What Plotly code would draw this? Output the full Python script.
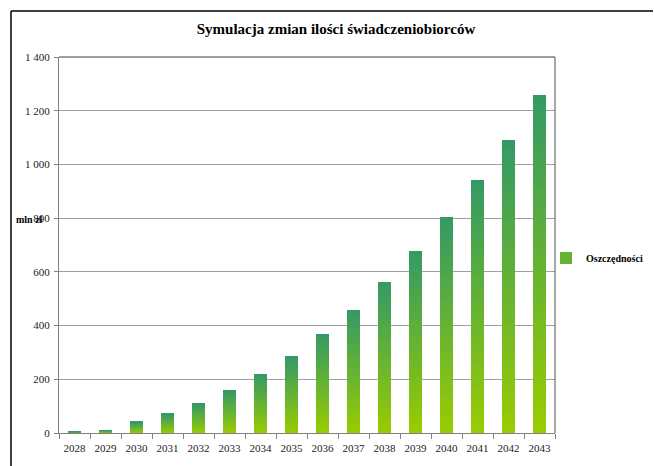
import plotly.graph_objects as go

years = ["2028", "2029", "2030", "2031", "2032", "2033", "2034", "2035",
         "2036", "2037", "2038", "2039", "2040", "2041", "2042", "2043"]
savings = [5, 11, 41, 71, 108, 160, 220, 287, 369, 458, 562, 678, 804, 942, 1091, 1258]
series_name = "Oszczędności"
y_ticks = [0, 200, 400, 600, 800, 1000, 1200, 1400]

# gradient emulation: stack thin slices of each bar, light at bottom, dark at top
N = 40
c_bottom = (153, 204, 0)
c_top = (51, 153, 102)

def mix(t):
    return "rgb(%d,%d,%d)" % tuple(round(a + (b - a) * t) for a, b in zip(c_bottom, c_top))

fig = go.Figure()
for i in range(N):
    t = (i + 0.5) / N
    fig.add_trace(go.Bar(
        x=years, y=[v / N for v in savings],
        marker=dict(color=mix(t), line=dict(width=0)),
        name="<b>" + series_name + "</b>", legendgroup="s",
        showlegend=(i == N // 2), hoverinfo="skip",
    ))

L, R, T, B = 59, 99, 57, 33
W, H = 654, 466
pw, ph = W - L - R, H - T - B

def px_x(px):
    return (px - L) / pw

def px_y(py):
    return (H - B - py) / ph

fig.update_layout(
    width=W, height=H,
    margin=dict(l=L, r=R, t=T, b=B, autoexpand=False),
    paper_bgcolor="white", plot_bgcolor="white",
    barmode="stack", bargap=0.55,
    separators=". ",
    font=dict(family="Liberation Serif, Times New Roman, serif", size=11, color="#222"),
    title=dict(text="<b>Symulacja zmian ilości świadczeniobiorców</b>",
               x=336 / W, xref="container", xanchor="center",
               y=1 - 29 / H, yref="container", yanchor="middle",
               font=dict(size=15, color="black", family="Liberation Serif, serif")),
    legend=dict(x=px_x(546), y=px_y(258), xanchor="left", yanchor="middle",
                font=dict(size=10, color="black", family="Liberation Serif, serif"),
                itemwidth=30, bgcolor="rgba(0,0,0,0)"),
    showlegend=True,
)

fig.update_xaxes(type="category", showline=True, linecolor="#808080", linewidth=1,
                 ticks="outside", tickson="boundaries", ticklen=5, tickcolor="#808080",
                 showgrid=False, tickfont=dict(size=11), tickangle=0, automargin=False,
                 ticklabelstandoff=5)
fig.update_yaxes(range=[0, 1400], tickvals=y_ticks, tickformat=",d",
                 showline=True, linecolor="#808080", linewidth=1,
                 ticks="outside", ticklen=4, tickcolor="#808080",
                 showgrid=True, gridcolor="#a0a0a0", gridwidth=1,
                 zeroline=False, tickfont=dict(size=11), automargin=False,
                 ticklabelstandoff=2)

# plot-area top/right border
fig.add_shape(type="line", xref="paper", yref="paper", x0=0, x1=1, y0=1, y1=1,
              line=dict(color="#404040", width=1))
fig.add_shape(type="line", xref="paper", yref="paper", x0=1, x1=1, y0=0, y1=1,
              line=dict(color="#505050", width=1))
# outer chart frame
fig.add_shape(type="line", xref="paper", yref="paper",
              x0=px_x(11), x1=px_x(653), y0=px_y(11), y1=px_y(11),
              line=dict(color="black", width=1.5))
fig.add_shape(type="line", xref="paper", yref="paper",
              x0=px_x(11), x1=px_x(11), y0=px_y(11), y1=px_y(470),
              line=dict(color="black", width=1.5))

fig.add_annotation(text="<b>mln zł</b>", xref="paper", yref="paper",
                   x=px_x(14), y=px_y(219), xanchor="left", yanchor="middle",
                   showarrow=False,
                   font=dict(size=10, color="black", family="Liberation Serif, serif"))

fig.write_html("out.html", config={"displayModeBar": False},
               post_script="document.body.style.margin='0';document.body.style.overflow='hidden';")
